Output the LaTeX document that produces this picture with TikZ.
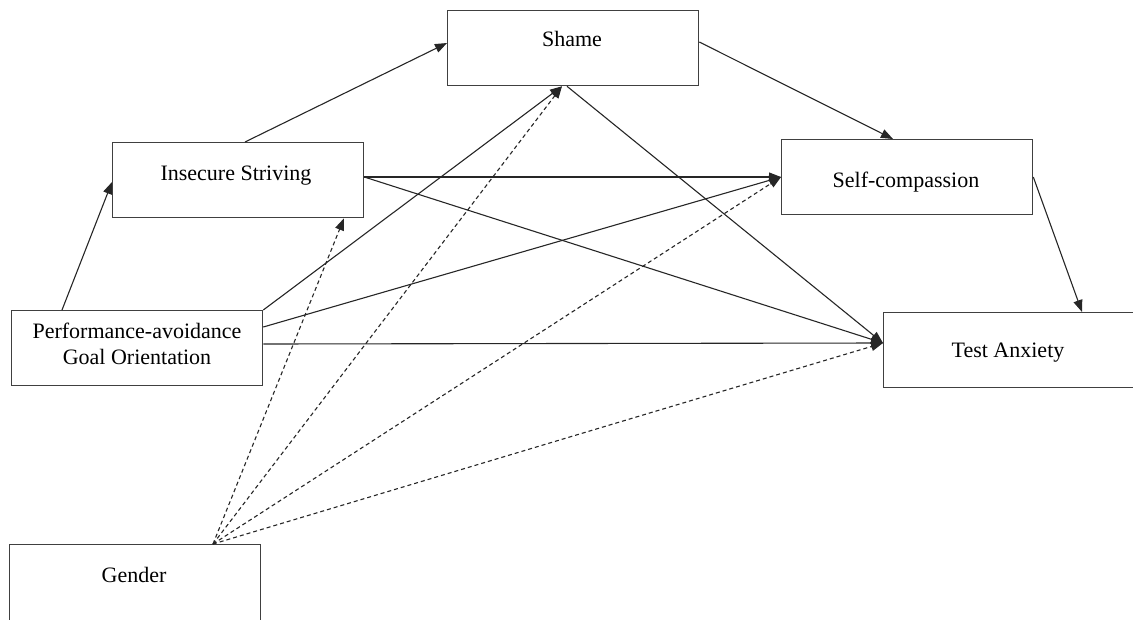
\documentclass[tikz,border=0pt]{standalone}
\usepackage{fontspec}
\setmainfont{Liberation Serif}
\usetikzlibrary{arrows.meta,calc}
\begin{document}
\begin{tikzpicture}[x=1pt,y=-1pt,
  box/.style={draw=black!75,line width=1.3pt,minimum width=251pt,minimum height=75pt,inner sep=0pt,anchor=north west},
  lbl/.style={font=\fontsize{22}{26}\selectfont,inner sep=0pt,anchor=base,align=center},
  path/.style={draw=black!85,line width=1.1pt,-{Triangle[length=12pt,width=9pt]}},
  dpath/.style={path,dash pattern=on 4pt off 3pt}]
\useasboundingbox (0,0) rectangle (1133,619);
% boxes
\node[box] (shame) at (447,10) {};
\node[box] (ins) at (112,142) {};
\node[box] (self) at (781,139) {};
\node[box] (perf) at (11,310) {};
\node[box,minimum width=262pt] (test) at (883,312) {};
\node[box,minimum height=85pt] (gender) at (9,544) {};
% labels
\node[lbl] (shamet) at (572,46) {Shame};
\node[lbl] (inst) at (236,180) {Insecure Striving};
\node[lbl] (selft) at (906,187) {Self-compassion};
\node[lbl] (perft) at (137,338) {Performance-avoidance};
\node[lbl] (perft2) at (137,364) {Goal Orientation};
\node[lbl] (testt) at (1008,357) {Test Anxiety};
\node[lbl] (gendert) at (134,582) {Gender};
% anchor points
\coordinate (pA) at ($(perf.north west)+(51,0)$);
\coordinate (insW) at ($(ins.north west)+(0,40)$);
\coordinate (insN) at ($(ins.north west)+(133,0)$);
\coordinate (insE) at ($(ins.north east)+(0,35)$);
\coordinate (insS) at ($(ins.south west)+(232,0)$);
\coordinate (shW) at ($(shame.north west)+(0,33)$);
\coordinate (shE) at ($(shame.north east)+(0,32)$);
\coordinate (shS) at ($(shame.south west)+(115,0)$);
\coordinate (shS2) at ($(shame.south west)+(120,0)$);
\coordinate (seN) at ($(self.north west)+(112,0)$);
\coordinate (seW) at ($(self.north west)+(0,38)$);
\coordinate (seE) at ($(self.north east)+(0,38)$);
\coordinate (teN) at ($(test.north west)+(199,0)$);
\coordinate (teW) at ($(test.north west)+(0,31)$);
\coordinate (peNE) at (perf.north east);
\coordinate (peE1) at ($(perf.north east)+(0,17)$);
\coordinate (peE2) at ($(perf.north east)+(0,34)$);
\coordinate (geN) at ($(gender.north west)+(204,0)$);
% solid paths
\draw[path] (pA) -- (insW);
\draw[path] (insN) -- (shW);
\draw[path] (shE) -- (seN);
\draw[path] (seE) -- (teN);
\draw[path] (shS2) -- (teW);
\draw[path] (insE) -- (seW);
\draw[path] (insE) -- (teW);
\draw[path] (peNE) -- (shS);
\draw[path] (peE1) -- (seW);
\draw[path] (peE2) -- (teW);
% dashed paths
\draw[dpath] (geN) -- (insS);
\draw[dpath] (geN) -- (shS);
\draw[dpath] (geN) -- (seW);
\draw[dpath] (geN) -- (teW);
\end{tikzpicture}
\end{document}
